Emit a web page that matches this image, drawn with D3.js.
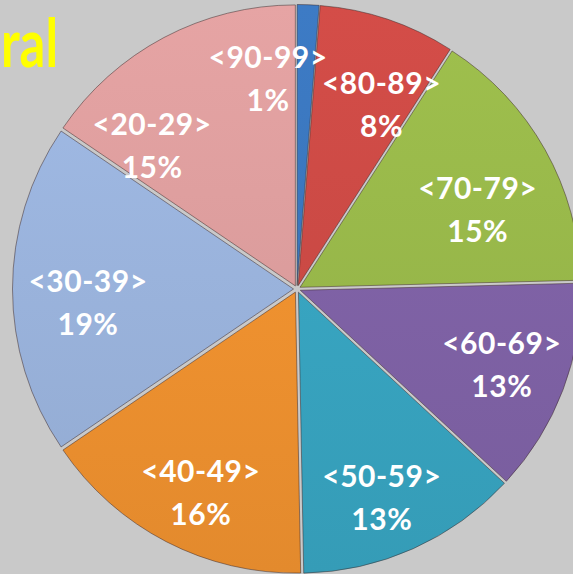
<!DOCTYPE html>
<html>
<head>
<meta charset="utf-8">
<script src="https://cdn.jsdelivr.net/npm/d3@7"></script>
<style>
  html, body { margin: 0; padding: 0; background: #c9c9c9; overflow: hidden; }
  text { font-family: Lato, "Open Sans", sans-serif; font-weight: bold; }
</style>
</head>
<body>
<svg width="573" height="574"></svg>
<script>
// age groups, clockwise from 12 o'clock
var groups = ["<90-99>", "<80-89>", "<70-79>", "<60-69>", "<50-59>", "<40-49>", "<30-39>", "<20-29>"];
// slice shares (percent)
var shares = [1.25, 7.85, 15.5, 12.3, 12.8, 15.8, 19.0, 15.5];
// percentages printed on the slices
var pctLabels = ["1%", "8%", "15%", "13%", "13%", "16%", "19%", "15%"];
var colors = ["#3a76bd", "#cb4a45", "#98b84a", "#7f62a6", "#38a5c1", "#f0922f", "#9ab3dc", "#dc9d9d"];

// label nudges away from the slice centroid (layout only)
var labelNudge = [[-37, -5], [19, 10], [2, 21], [13, 4], [1, 22], [-2, 22], [-4, 14], [-49, 38]];

var svg = d3.select("svg"),
    cx = 297, cy = 289,
    radius = 281,
    explode = 3.5;

var data = groups.map(function(g, i) {
  return { group: g, value: shares[i], pct: pctLabels[i], color: colors[i], nudge: labelNudge[i] };
});

var pie = d3.pie().sort(null).value(function(d) { return d.value; });
var arcs = pie(data);

var arc = d3.arc().innerRadius(0).outerRadius(radius);
var labelArc = d3.arc().innerRadius(205).outerRadius(205);

var defs = svg.append("defs");
arcs.forEach(function(a, i) {
  var c = d3.color(a.data.color);
  var g = defs.append("linearGradient")
      .attr("id", "grad" + i)
      .attr("gradientUnits", "userSpaceOnUse")
      .attr("x1", 0).attr("y1", -radius)
      .attr("x2", 0).attr("y2", radius);
  g.append("stop").attr("offset", "0%").attr("stop-color", c.brighter(0.12));
  g.append("stop").attr("offset", "100%").attr("stop-color", c.darker(0.15));
});

// title fragment at the left edge
svg.append("text")
    .attr("x", 1)
    .attr("y", 67)
    .attr("fill", "#ffff00")
    .attr("textLength", 57)
    .attr("lengthAdjust", "spacingAndGlyphs")
    .style("font-size", "66px")
    .text("ral");

var pieG = svg.append("g").attr("transform", "translate(" + cx + "," + cy + ")");

pieG.selectAll("path.slice")
  .data(arcs)
  .enter().append("path")
    .attr("class", "slice")
    .attr("transform", function(d) {
      var m = (d.startAngle + d.endAngle) / 2;
      return "translate(" + (Math.sin(m) * explode) + "," + (-Math.cos(m) * explode) + ")";
    })
    .attr("d", arc)
    .attr("fill", function(d, i) { return "url(#grad" + i + ")"; })
    .attr("stroke", "rgba(60,40,40,0.5)")
    .attr("stroke-width", 1);

var labels = pieG.selectAll("g.label")
  .data(arcs)
  .enter().append("g")
    .attr("class", "label")
    .attr("transform", function(d) {
      var c = labelArc.centroid(d);
      return "translate(" + (c[0] + d.data.nudge[0]) + "," + (c[1] + d.data.nudge[1]) + ")";
    });

labels.append("text")
    .attr("text-anchor", "middle")
    .attr("y", -11)
    .attr("fill", "#ffffff")
    .style("font-size", "30px")
    .style("letter-spacing", "0.5px")
    .text(function(d) { return d.data.group; });

labels.append("text")
    .attr("text-anchor", "middle")
    .attr("y", 32)
    .attr("fill", "#ffffff")
    .style("font-size", "30px")
    .style("letter-spacing", "0.5px")
    .text(function(d) { return d.data.pct; });
</script>
</body>
</html>
